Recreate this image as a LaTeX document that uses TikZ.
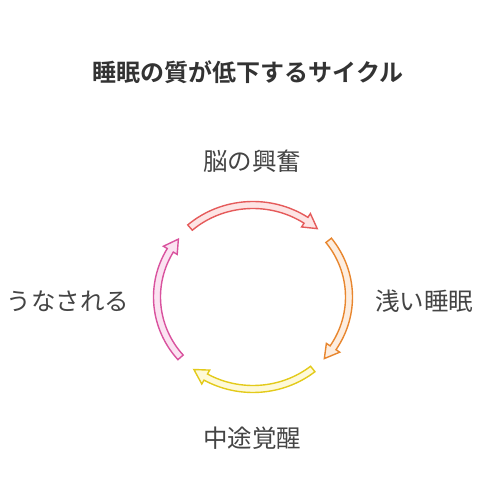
\documentclass[tikz,border=0pt]{standalone}
\usepackage{fontspec}
\newfontfamily\jp{Noto Sans CJK JP}[BoldFont={Noto Sans CJK JP Bold}]
\definecolor{txt}{HTML}{444444}
\definecolor{ttl}{HTML}{333333}
\definecolor{redD}{HTML}{E55B5B}\definecolor{redF}{HTML}{FDE4E4}
\definecolor{orgD}{HTML}{E8862E}\definecolor{orgF}{HTML}{FDEDDF}
\definecolor{yelD}{HTML}{E3CA1A}\definecolor{yelF}{HTML}{FEF9D8}
\definecolor{pnkD}{HTML}{D9529E}\definecolor{pnkF}{HTML}{FBE2F1}
\newcommand\cyclearrow[5]{%
  \pgfmathsetmacro\hA{#2+8.5}%
  \filldraw[draw=#3, fill=#4, line width=1.4pt, line join=miter]
    (#1:99.5pt and 95.5pt) arc[start angle=#1, end angle=\hA, x radius=99.5pt, y radius=95.5pt]
    -- (\hA:104pt and 100pt) -- (#2:96pt and 92pt) coordinate (#5)
    -- (\hA:88pt and 84pt) -- (\hA:92.5pt and 88.5pt)
    arc[start angle=\hA, end angle=#1, x radius=92.5pt, y radius=88.5pt] -- cycle;
}
\tikzset{lbl/.style={font=\jp\fontsize{24.5pt}{28pt}\selectfont, text=txt, inner sep=0pt},
         ttlsty/.style={font=\jp\bfseries\fontsize{24pt}{28pt}\selectfont, text=ttl, inner sep=0pt}}
\begin{document}
\begin{tikzpicture}[x=1pt,y=1pt]
\useasboundingbox (-253,-197) rectangle (229,297);
\node[ttlsty] (title) at (-5,225) {睡眠の質が低下するサイクル};
\cyclearrow{131}{48}{redD}{redF}{t1}
\cyclearrow{38}{-42}{orgD}{orgF}{t2}
\cyclearrow{-51.5}{-128}{yelD}{yelF}{t3}
\cyclearrow{221}{141}{pnkD}{pnkF}{t4}
\node[lbl] (a) at (-1,136) {脳の興奮};
\node[lbl] (b) at (171,-4) {浅い睡眠};
\node[lbl] (c) at (-1,-141) {中途覚醒};
\node[lbl] (d) at (-185,-4) {うなされる};
\end{tikzpicture}
\end{document}
